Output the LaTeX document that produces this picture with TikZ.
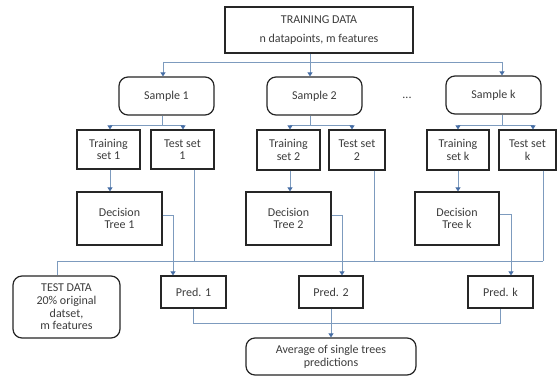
\documentclass[tikz,border=0pt]{standalone}
\usepackage{fontspec}
\setmainfont{Carlito}
\usetikzlibrary{arrows.meta,calc}
\definecolor{lnc}{RGB}{125,155,190}
\definecolor{tipc}{RGB}{70,110,165}
\definecolor{txc}{RGB}{60,60,60}
\begin{document}
\begin{tikzpicture}[x=1pt,y=-1pt,
  box/.style={draw=black!85,line width=1.2pt,fill=white,align=center,inner sep=0pt,
    font=\fontsize{12}{12.6}\selectfont,text=txc},
  rbox/.style={box,rounded corners=9pt},
  ln/.style={draw=lnc,line width=0.8pt},
  arr/.style={ln,-{Triangle[width=5pt,length=4pt,fill=tipc,color=tipc]}}]
\useasboundingbox (0,0) rectangle (559,377);
\fill[white] (0,0) rectangle (559,377);
% nodes
\node[box,minimum width=188pt,minimum height=46pt] (train) at (319,30) {TRAINING DATA\\[6pt]n datapoints, m features};
\node[rbox,minimum width=95pt,minimum height=38pt] (s1) at (166.5,96) {Sample 1};
\node[rbox,minimum width=95pt,minimum height=38pt] (s2) at (314.5,96) {Sample 2};
\node[rbox,minimum width=95pt,minimum height=38pt] (sk) at (493.5,95) {Sample k};
\node[font=\fontsize{12}{12.6}\selectfont,text=txc] (dots) at (407,98) {...};
\node[box,minimum width=63pt,minimum height=39pt] (tr1) at (108.5,149.5) {Training\\set 1};
\node[box,minimum width=63pt,minimum height=39pt] (ts1) at (182.5,149.5) {Test set\\1};
\node[box,minimum width=63pt,minimum height=40pt] (tr2) at (288.5,150) {Training\\set 2};
\node[box,minimum width=56pt,minimum height=40pt] (ts2) at (357,150) {Test set\\2};
\node[box,minimum width=62pt,minimum height=40pt] (trk) at (458,150) {Training\\set k};
\node[box,minimum width=57pt,minimum height=40pt] (tsk) at (527.5,150) {Test set\\k};
\node[box,minimum width=85pt,minimum height=53pt] (dt1) at (119.5,218.5) {Decision\\Tree 1};
\node[box,minimum width=85pt,minimum height=53pt] (dt2) at (288.5,218.5) {Decision\\Tree 2};
\node[box,minimum width=84pt,minimum height=53pt] (dtk) at (457,218.5) {Decision\\Tree k};
\node[rbox,minimum width=107pt,minimum height=62pt] (tdata) at (66.5,307) {TEST DATA\\20\% original\\datset,\\m features};
\node[box,minimum width=65pt,minimum height=32pt] (p1) at (193.5,292) {Pred. 1};
\node[box,minimum width=64pt,minimum height=32pt] (p2) at (331,292) {Pred. 2};
\node[box,minimum width=65pt,minimum height=32pt] (pk) at (500.5,292) {Pred. k};
\node[rbox,minimum width=170pt,minimum height=37pt] (avg) at (331,356.5) {Average of single trees\\predictions};
% bus coordinates
\coordinate (busA) at (310,62);
\coordinate (busS1) at (162,125);
\coordinate (busS2) at (310,125);
\coordinate (busSk) at (502,125);
\coordinate (busT) at (0,261);
\coordinate (busP) at (0,323);
% training data to samples
\draw[ln] ([xshift=-9pt]train.south) -- (busA);
\draw[ln] ([xshift=-3.5pt]s1.north |- busA) -- ([xshift=8.5pt]sk.north |- busA);
\draw[arr] ([xshift=-3.5pt]s1.north |- busA) -- ([xshift=-3.5pt]s1.north);
\draw[arr] (busA) -- (s2.north -| busA);
\draw[arr] ([xshift=8.5pt]sk.north |- busA) -- ([xshift=8.5pt]sk.north);
% samples to sets
\draw[ln] (s1.south -| busS1) -- (busS1);
\draw[ln] ([xshift=1.5pt]tr1.north |- busS1) -- ([xshift=0.5pt]ts1.north |- busS1);
\draw[arr] ([xshift=1.5pt]tr1.north |- busS1) -- ([xshift=1.5pt]tr1.north);
\draw[arr] ([xshift=0.5pt]ts1.north |- busS1) -- ([xshift=0.5pt]ts1.north);
\draw[ln] (s2.south -| busS2) -- (busS2);
\draw[ln] ([xshift=1.5pt]tr2.north |- busS2) -- ([xshift=-5pt]ts2.north |- busS2);
\draw[arr] ([xshift=1.5pt]tr2.north |- busS2) -- ([xshift=1.5pt]tr2.north);
\draw[arr] ([xshift=-5pt]ts2.north |- busS2) -- ([xshift=-5pt]ts2.north);
\draw[ln] (sk.south -| busSk) -- (busSk);
\draw[ln] (trk.north |- busSk) -- ([xshift=5.5pt]tsk.north |- busSk);
\draw[arr] (trk.north |- busSk) -- (trk.north);
\draw[arr] ([xshift=5.5pt]tsk.north |- busSk) -- ([xshift=5.5pt]tsk.north);
% training sets to trees
\draw[arr] ([xshift=1.5pt]tr1.south) -- ([xshift=1.5pt]tr1.south |- dt1.north);
\draw[arr] ([xshift=1.5pt]tr2.south) -- ([xshift=1.5pt]tr2.south |- dt2.north);
\draw[arr] (trk.south) -- (trk.south |- dtk.north);
% test sets to test data bus
\draw[ln] ([xshift=11.5pt]ts1.south) -- ([xshift=11.5pt]ts1.south |- busT);
\draw[ln] ([xshift=17pt]ts2.south) -- ([xshift=17pt]ts2.south |- busT);
\draw[ln] ([xshift=15.5pt]tsk.south) -- ([xshift=15.5pt]tsk.south |- busT);
\draw[ln] ([xshift=-9.5pt]tdata.north) -- ([xshift=-9.5pt]tdata.north |- busT) -- ([xshift=15.5pt]tsk.south |- busT);
% trees to predictions
\draw[arr] ([yshift=3.5pt]dt1.east) -| ([xshift=-20.5pt]p1.north);
\draw[arr] ([yshift=3.5pt]dt2.east) -| ([xshift=11pt]p2.north);
\draw[arr] ([yshift=4.5pt]dtk.east) -| ([xshift=10.5pt]pk.north);
% predictions to average
\draw[ln] (p1.south) -- (p1.south |- busP) -- (pk.south |- busP) -- (pk.south);
\draw[arr] (p2.south) -- (avg.north);
\end{tikzpicture}
\end{document}
